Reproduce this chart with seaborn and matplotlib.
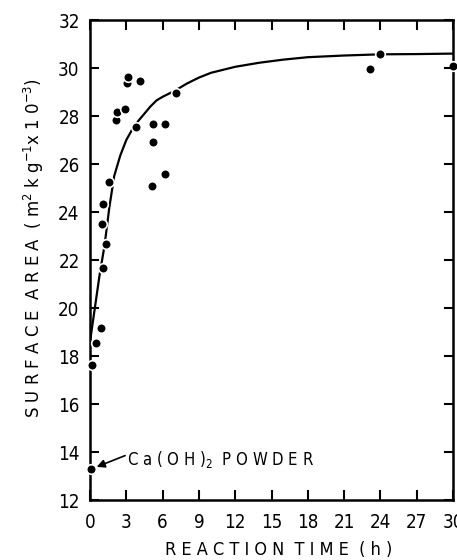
import numpy as np
import pandas as pd
import seaborn as sns
import matplotlib
matplotlib.use("Agg")
import matplotlib.pyplot as plt

time_h = [0.06, 0.19, 0.47, 0.88, 1.05, 1.3, 1.02, 1.1, 1.6, 2.12, 2.2, 2.9,
          3.06, 3.17, 4.16, 3.8, 5.18, 6.2, 5.18, 5.1, 6.2, 7.08, 23.1, 23.97, 29.97]
area = [13.28, 17.63, 18.53, 19.15, 21.65, 22.65, 23.49, 24.33, 25.27, 27.83, 28.18, 28.28,
        29.36, 29.64, 29.47, 27.56, 27.67, 27.67, 26.9, 25.1, 25.6, 28.94, 29.94, 30.57, 30.1]

# 곡선 (손으로 그린 추세선, 그림에서 읽음)
curve_t = [0, 0.4, 0.8, 1.2, 1.6, 2.0, 2.5, 3.0, 3.5, 4.0, 4.5, 5.0, 5.5, 6.0, 7.0,
           8.0, 9.0, 10, 12, 14, 16, 18, 21, 24, 27, 30]
curve_y = [18.6, 20.0, 21.4, 22.6, 24.2, 25.5, 26.35, 27.0, 27.45, 27.8, 28.1, 28.4, 28.65,
           28.8, 29.05, 29.35, 29.6, 29.8, 30.05, 30.22, 30.35, 30.45, 30.52, 30.57, 30.58, 30.6]

x_ticks = [0, 3, 6, 9, 12, 15, 18, 21, 24, 27, 30]
y_ticks = [12, 14, 16, 18, 20, 22, 24, 26, 28, 30, 32]

pts = pd.DataFrame({"t": time_h, "sa": area})
crv = pd.DataFrame({"t": curve_t, "sa": curve_y})

sns.set_style("ticks", {"xtick.color": "black", "ytick.color": "black",
                        "axes.edgecolor": "black", "text.color": "black",
                        "axes.labelcolor": "black", "axes.axisbelow": False})
plt.rcParams['font.family'] = ['DejaVu Sans']
plt.rcParams['font.stretch'] = 'condensed'

fig = plt.figure(figsize=(4.57, 5.6), dpi=100)
ax = fig.add_axes([90/457, 1 - 500/560, 363/457, 480/560])

sns.lineplot(data=crv, x="t", y="sa", ax=ax, color="black", lw=1.6, zorder=2)
sns.scatterplot(data=pts, x="t", y="sa", ax=ax, color="black", s=48,
                edgecolor="white", linewidth=1.2, zorder=4, clip_on=False)

ax.set_xlim(0, 30)
ax.set_ylim(12, 32)
ax.set_xticks(x_ticks)
ax.set_yticks(y_ticks)
# 눈금 표시는 안쪽으로 직접 그림 (네 변 모두)
ax.tick_params(direction="in", length=0, labelsize=13.5)
ax.tick_params(axis="x", pad=9)
ax.tick_params(axis="y", pad=7.5)
tx = ax.get_xaxis_transform()
ty = ax.get_yaxis_transform()
tick_kw = dict(color="black", lw=1.5, clip_on=False, zorder=5)
ax.vlines(x_ticks, 0, 0.02, transform=tx, **tick_kw)
ax.vlines(x_ticks, 0.98, 1, transform=tx, **tick_kw)
ax.hlines(y_ticks, 0, 0.026, transform=ty, **tick_kw)
ax.hlines(y_ticks, 0.974, 1, transform=ty, **tick_kw)
for s in ax.spines.values():
    s.set_linewidth(1.8)
    s.set_color("black")
    s.set_zorder(3)

ax.set_xlabel("R E A C T I O N  T I M E  ( h )", fontsize=13)
ax.xaxis.set_label_coords(0.52, -0.085)
ax.set_ylabel(r"S U R F A C E  A R E A  ( m$^{\mathregular{2}}$ k g$^{\mathregular{-1}}$x 1 0$^{\mathregular{-3}}$)",
              fontsize=13.2)
ax.yaxis.set_label_coords(-0.122, 0.524)

# Ca(OH)2 표시
ax.annotate("", xy=(0.55, 13.38), xytext=(2.9, 13.85),
            arrowprops=dict(arrowstyle="-|>", color="black", lw=1.2,
                            mutation_scale=12, shrinkA=0, shrinkB=0))
ax.text(3.05, 13.46, r"C a ( O H )$_{\mathregular{2}}$  P O W D E R", fontsize=12,
        ha="left", va="baseline")

fig.savefig("out.png", dpi=100)
